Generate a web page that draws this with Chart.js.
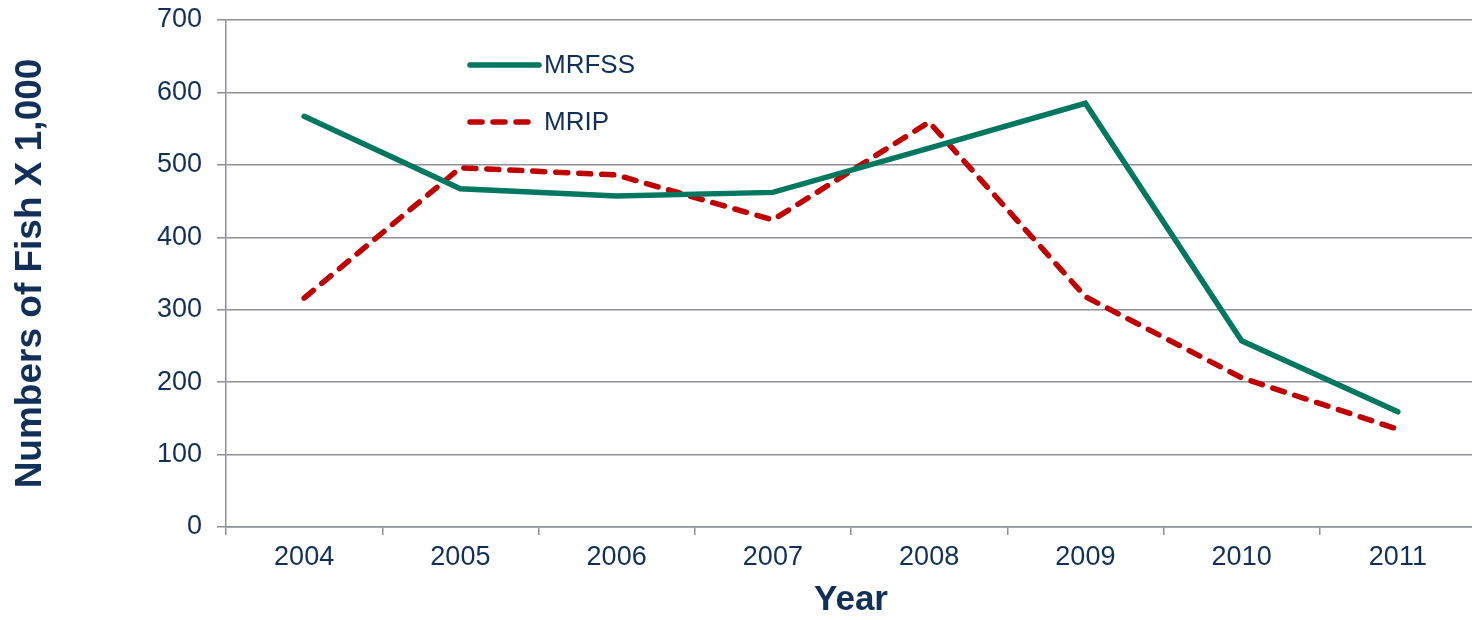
<!DOCTYPE html>
<html>
<head>
<meta charset="utf-8">
<script src="https://cdn.jsdelivr.net/npm/chart.js@4/dist/chart.umd.min.js"></script>
<style>
  html, body { margin: 0; padding: 0; background: #fff; overflow: hidden; }
  #wrap { width: 1480px; height: 620px; }
</style>
</head>
<body>
<div id="wrap"><canvas id="c" width="1480" height="620"></canvas></div>
<script>
const years = ['2004', '2005', '2006', '2007', '2008', '2009', '2010', '2011'];
const mrfss = [567, 467, 457, 462, 523, 585, 257, 159];
const mrip = [316, 496, 486, 424, 559, 318, 206, 135];
const yTicks = [0, 100, 200, 300, 400, 500, 600, 700];

const TEXT = '#10305A';
const GRID = '#8E9099';
const GREEN = '#00775F';
const RED = '#C00000';
const FONT = '"Liberation Sans", Arial, sans-serif';

const legendPlugin = {
  id: 'customLegend',
  afterDraw(chart) {
    const ctx = chart.ctx;
    const items = [
      { ds: chart.data.datasets[0], y: 65, x2: 539 },
      { ds: chart.data.datasets[1], y: 122, x2: 530 }
    ];
    ctx.save();
    items.forEach(it => {
      ctx.beginPath();
      ctx.strokeStyle = it.ds.borderColor;
      ctx.lineWidth = it.ds.borderWidth;
      ctx.lineCap = 'round';
      ctx.setLineDash(it.ds.borderDash || []);
      ctx.moveTo(470, it.y);
      ctx.lineTo(it.x2, it.y);
      ctx.stroke();
      ctx.setLineDash([]);
      ctx.fillStyle = TEXT;
      ctx.font = '26px ' + FONT;
      ctx.textBaseline = 'middle';
      ctx.textAlign = 'left';
      ctx.fillText(it.ds.label, 544, it.y + 1);
    });
    ctx.restore();
  }
};

new Chart(document.getElementById('c'), {
  type: 'line',
  data: {
    labels: years,
    datasets: [
      { label: 'MRFSS', data: mrfss, borderColor: GREEN, borderWidth: 5.5, pointRadius: 0, tension: 0, fill: false, borderCapStyle: 'round', borderJoinStyle: 'miter' },
      { label: 'MRIP', data: mrip, borderColor: RED, borderWidth: 5.5, borderDash: [12, 11], borderCapStyle: 'round', pointRadius: 0, tension: 0, fill: false }
    ]
  },
  options: {
    responsive: false,
    animation: false,
    layout: { padding: { top: 20, right: 4, left: 0, bottom: 0 } },
    plugins: { legend: { display: false }, tooltip: { enabled: false } },
    scales: {
      x: {
        type: 'category',
        offset: true,
        grid: { offset: true, drawOnChartArea: false, drawTicks: true, tickLength: 8, color: GRID, lineWidth: 1.5 },
        border: { display: true, color: GRID, width: 1.5 },
        ticks: { color: TEXT, font: { family: FONT, size: 27 }, padding: 6, maxRotation: 0, autoSkip: false },
        title: { display: true, text: 'Year', color: TEXT, font: { family: FONT, size: 35, weight: 'bold', lineHeight: 1 }, padding: { top: 0, bottom: 2 } },
        afterFit(scale) { scale.height = 93; scale.paddingLeft = 0; scale.paddingRight = 0; }
      },
      y: {
        min: 0, max: 700,
        afterBuildTicks(scale) { scale.ticks = yTicks.map(v => ({ value: v })); },
        grid: { drawOnChartArea: true, drawTicks: true, tickLength: 9, color: GRID, lineWidth: 1.5 },
        border: { display: true, color: GRID, width: 1.5 },
        ticks: { color: TEXT, font: { family: FONT, size: 27 }, padding: 15 },
        title: { display: true, text: 'Numbers of Fish X 1,000', color: TEXT, font: { family: FONT, size: 37, weight: 'bold', lineHeight: 1 }, padding: { top: 12, bottom: 0 } },
        afterFit(scale) { scale.width = 226; scale.paddingTop = 0; scale.paddingBottom = 0; }
      }
    }
  },
  plugins: [legendPlugin]
});
</script>
</body>
</html>
